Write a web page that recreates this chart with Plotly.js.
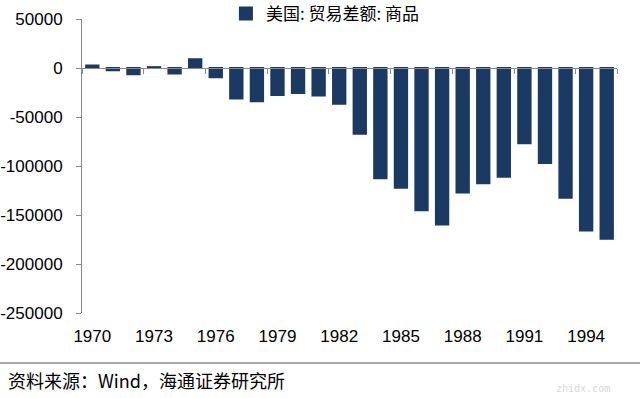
<!DOCTYPE html>
<html>
<head>
<meta charset="utf-8">
<script src="https://cdn.plot.ly/plotly-3.0.1.min.js"></script>
<style>html,body{margin:0;padding:0;background:#fff;}#chart{width:640px;height:398px;}</style>
</head>
<body>
<div id="chart"></div>
<script>
const years = [1970,1971,1972,1973,1974,1975,1976,1977,1978,1979,1980,1981,1982,1983,1984,1985,1986,1987,1988,1989,1990,1991,1992,1993,1994,1995];
const balance = [2600,-2300,-6400,900,-5500,8900,-9500,-31100,-33900,-27600,-25500,-28000,-36500,-67100,-112500,-122200,-145100,-159600,-127000,-117700,-111000,-76900,-96900,-132500,-165800,-174200];
const seriesName = "美国: 贸易差额: 商品";
const xTickYears = [1970,1973,1976,1979,1982,1985,1988,1991,1994];
const yTicks = [50000,0,-50000,-100000,-150000,-200000,-250000];
const sourceText = "资料来源：Wind，海通证券研究所";

const yMin = -250000, yMax = 50000;
const boundaries = years.filter((y,i)=>i%3===0).map(y=>y-0.5).concat([years[years.length-1]+0.5]);
const xr = [years[0]-0.5, years[years.length-1]+0.5];
const gray = "#8a8a8a";
const barColor = "#1a3a63";

const traces = [
  {type:"bar", x:years, y:balance, name:seriesName, marker:{color:barColor, line:{color:barColor, width:2}}, hoverinfo:"x+y", showlegend:true},
  {type:"scatter", x:[], y:[], xaxis:"x2", yaxis:"y", showlegend:false, hoverinfo:"skip"}
];

const layout = {
  width:640, height:398,
  margin:{l:82, r:23, t:19, b:85, autoexpand:false},
  paper_bgcolor:"#fff", plot_bgcolor:"#fff",
  bargap:0.4,
  showlegend:true,
  font:{family:"Liberation Sans, Arial, sans-serif", color:"#000"},
  xaxis:{range:xr, tickvals:xTickYears, ticktext:xTickYears.map(String), showline:false, zeroline:false, showgrid:false,
         ticks:"", tickfont:{size:17, color:"#000"}, ticklabelstandoff:11, fixedrange:true, automargin:false},
  xaxis2:{range:xr, overlaying:"x", anchor:"free", side:"bottom", position:(0-yMin)/(yMax-yMin),
          showline:true, linecolor:gray, linewidth:1, ticks:"outside", ticklen:5, tickcolor:gray,
          tickvals:boundaries, showticklabels:false, showgrid:false, zeroline:false},
  yaxis:{range:[yMin,yMax], tickvals:yTicks, ticktext:yTicks.map(String), showline:true, linecolor:gray, linewidth:1,
         ticks:"outside", ticklen:5, tickcolor:gray, showgrid:false, zeroline:false, automargin:false,
         tickfont:{size:17, color:"#000"}, ticklabelstandoff:10},
  legend:{orientation:"h", x:0.455, xanchor:"center", y:1.017, yanchor:"middle",
          font:{family:"Noto Sans CJK SC", size:17, color:"#000"}, bgcolor:"rgba(0,0,0,0)", itemwidth:30},
  shapes:[{type:"line", xref:"paper", yref:"paper", x0:-82/535, x1:558/535, y0:-50/294, y1:-50/294, line:{color:"#555", width:1}}],
  annotations:[
    {xref:"paper", yref:"paper", x:-76/535, y:-67/294, xanchor:"left", yanchor:"middle", showarrow:false,
     text:sourceText, font:{family:"Noto Sans CJK SC", size:18, color:"#000"}},
    {xref:"paper", yref:"paper", x:0.99, y:-75/294, xanchor:"right", yanchor:"middle", showarrow:false,
     text:"zhidx.com", font:{family:"DejaVu Sans Mono", size:10, color:"#d8d8d8"}}
  ]
};
Plotly.newPlot("chart", traces, layout, {displayModeBar:false, staticPlot:true});
</script>
</body>
</html>
